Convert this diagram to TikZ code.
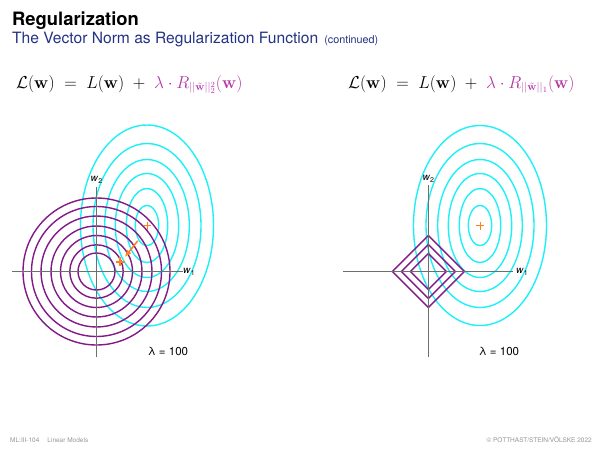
\documentclass[tikz,border=0pt]{standalone}
\usepackage[no-math]{fontspec}
\setmainfont{TeX Gyre Heros}
\usetikzlibrary{arrows.meta}
\definecolor{ellcyan}{RGB}{30,240,248}
\definecolor{circpurple}{RGB}{130,25,135}
\definecolor{formpurple}{RGB}{180,55,165}
\definecolor{markorange}{RGB}{255,128,30}
\definecolor{subblue}{RGB}{35,50,130}
\definecolor{axisgray}{RGB}{110,110,110}
\definecolor{footgray}{RGB}{150,150,150}
\begin{document}
\begin{tikzpicture}[x=1pt,y=-1pt,
  ell/.style={draw=ellcyan,line width=1.4pt},
  circ/.style={draw=circpurple,line width=1.4pt},
  axisline/.style={draw=axisgray,line width=1pt},
  marksmall/.style={draw=markorange,line width=1pt},
  markbold/.style={draw=markorange,line width=2pt},
  axlabel/.style={inner sep=0pt,font=\fontsize{10}{12}\selectfont},
  formula/.style={anchor=base west,inner sep=0pt,font=\fontsize{16}{19}\selectfont},
  lamlabel/.style={inner sep=0pt,font=\fontsize{11.5}{13}\selectfont},
  foot/.style={inner sep=0pt,text=footgray,font=\fontsize{6.5}{8}\selectfont}]
\useasboundingbox (0,0) rectangle (600,450);

% header
\node[anchor=base west,inner sep=0pt] (title) at (12,25)
  {\fontsize{18.4}{20}\selectfont\bfseries Regularization};
\node[anchor=base west,inner sep=0pt,text=subblue] (subtitle) at (12,43.5)
  {\fontsize{15.6}{17}\selectfont The Vector Norm as Regularization Function\hspace{6pt}{\fontsize{10.8}{12}\selectfont (continued)}};

% formulas
\node[formula] (f1) at (16,88)
  {$\mathcal{L}(\mathbf{w})\;=\;L(\mathbf{w})\;+\;{\color{formpurple}\lambda\cdot R_{||\tilde{\mathbf{w}}||_2^2}(\mathbf{w})}$};
\node[formula] (f2) at (348,88)
  {$\mathcal{L}(\mathbf{w})\;=\;L(\mathbf{w})\;+\;{\color{formpurple}\lambda\cdot R_{||\tilde{\mathbf{w}}||_1}(\mathbf{w})}$};

% ---------- left plot ----------
\coordinate (O1) at (96.5,271.5);
\coordinate (C1) at (147,225.5);
\foreach \a/\b in {66.5/100.5,54/82,42.3/66,31.7/52,20.7/37,11.7/20}
  \draw[ell] (C1) ellipse [x radius=\a, y radius=\b];
\foreach \r in {18.5,26.7,36,45.5,55.5,65,73.5}
  \draw[circ] (O1) circle [radius=\r];
\draw[axisline] (12,271.5) -- (183,271.5);
\draw[axisline] (96.5,187) -- (96.5,357);
\node[axlabel] (w1a) at (189,272) {\textit{w}\raisebox{-2pt}{\fontsize{7}{8}\selectfont 1}};
\node[axlabel] (w2a) at (96.5,180) {\textit{w}\raisebox{-2pt}{\fontsize{7}{8}\selectfont 2}};
% markers
\draw[marksmall] (143.2,225.5) -- (151.2,225.5) (147.2,221.5) -- (147.2,229.5);
\draw[markbold] (115.5,261.7) -- (124.5,261.7) (120,257.2) -- (120,266.2);
\coordinate (arrS) at (137.8,240.8);
\coordinate (arrE) at (124.8,257);
\draw[draw=markorange,line width=1.5pt,-{Latex[length=7pt,width=6pt]}] (arrS) -- (arrE);
\node[lamlabel] (lam1) at (168,351) {λ = 100};

% ---------- right plot ----------
\coordinate (O2) at (428.3,271.5);
\coordinate (C2) at (480,225.5);
\foreach \a/\b in {66.5/100,54/82,42.3/66,31.7/52,20.7/37,11.7/20}
  \draw[ell] (C2) ellipse [x radius=\a, y radius=\b];
\foreach \r in {18,27,36}
  \draw[circ] (428.3-\r,271.5) -- (428.3,271.5-\r) -- (428.3+\r,271.5) -- (428.3,271.5+\r) -- cycle;
\draw[axisline] (343.3,271.5) -- (513.3,271.5);
\draw[axisline] (428.3,185) -- (428.3,357);
\node[axlabel] (w1b) at (522,272) {\textit{w}\raisebox{-2pt}{\fontsize{7}{8}\selectfont 1}};
\node[axlabel] (w2b) at (428.3,179) {\textit{w}\raisebox{-2pt}{\fontsize{7}{8}\selectfont 2}};
\draw[marksmall] (476,225.5) -- (484,225.5) (480,221.5) -- (480,229.5);
\node[lamlabel] (lam2) at (499,351) {λ = 100};

% footer
\node[foot,anchor=base west] (foot1) at (10,442) {ML:III-104\hspace{8pt}Linear Models};
\node[foot,anchor=base east] (foot2) at (592,442) {© POTTHAST/STEIN/VÖLSKE 2022};
\end{tikzpicture}
\end{document}
